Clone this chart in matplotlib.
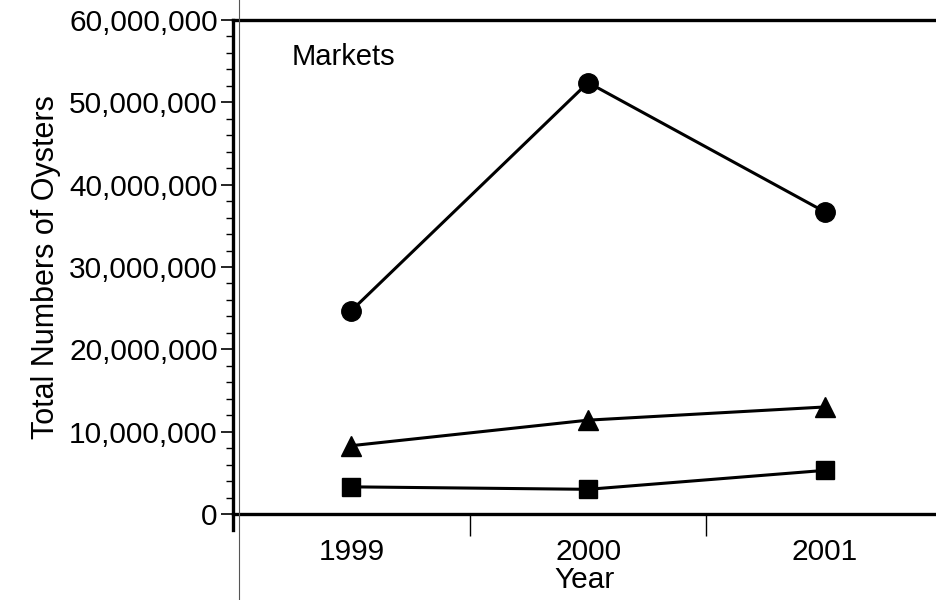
import matplotlib
matplotlib.use('Agg')
import matplotlib.pyplot as plt
from matplotlib.lines import Line2D
from matplotlib.ticker import FuncFormatter, MultipleLocator

years = ['1999', '2000', '2001']
circles = [24.7e6, 52.4e6, 36.7e6]
triangles = [8.3e6, 11.4e6, 13.0e6]
squares = [3.3e6, 3.0e6, 5.3e6]

plt.rcParams['font.family'] = ['Liberation Sans', 'DejaVu Sans']

fig = plt.figure(figsize=(9.36, 6.0), dpi=100)
ax = fig.add_axes([0.249, 0.1433, 0.751, 0.8234])

x = [0.5, 1.5, 2.5]
ax.plot(x, circles, color='black', lw=2.2, marker='o', markersize=14, zorder=3)
ax.plot(x, triangles, color='black', lw=2.2, marker='^', markersize=14, zorder=3)
ax.plot(x, squares, color='black', lw=2.2, marker='s', markersize=13, zorder=3)

ax.set_xlim(0, 2.97)
ax.set_ylim(0, 60e6)

ax.yaxis.set_major_locator(MultipleLocator(10e6))
ax.yaxis.set_minor_locator(MultipleLocator(2e6))
ax.yaxis.set_major_formatter(FuncFormatter(lambda v, p: '{:,.0f}'.format(v)))
ax.tick_params(axis='y', which='major', length=9, width=1.2, labelsize=21.5, pad=2)
ax.tick_params(axis='y', which='minor', length=5, width=1.0)

ax.set_xticks([1.0, 2.0])
ax.set_xticklabels([])
ax.set_xticks(x, minor=True)
ax.set_xticklabels(years, minor=True)
ax.tick_params(axis='x', which='major', length=16, width=1.0, direction='out')
ax.tick_params(axis='x', which='minor', length=0, labelsize=21.5, pad=17)

ax.spines['right'].set_visible(False)
for s in ['left', 'bottom', 'top']:
    ax.spines[s].set_linewidth(2.4)
ax.spines['left'].set_bounds(-2e6, 60e6)

ax.set_ylabel('Total Numbers of Oysters', fontsize=22, labelpad=6)
ax.set_xlabel('Year', fontsize=21.5, labelpad=0)

ax.text(0.083, 0.925, 'Markets', transform=ax.transAxes, fontsize=21,
        ha='left', va='center')

# thin scan edge line
fig.add_artist(Line2D([239 / 936, 239 / 936], [0, 1], color='#555555', lw=0.8))

fig.savefig('out.png', dpi=100)
